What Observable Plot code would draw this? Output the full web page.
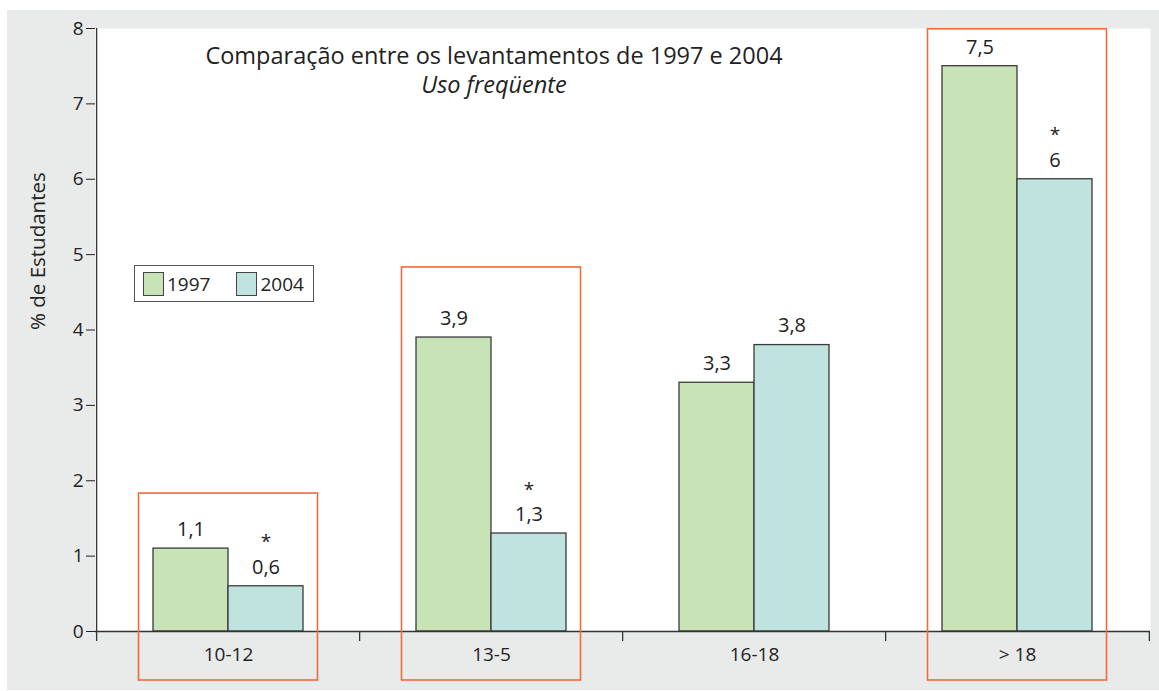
<!DOCTYPE html>
<html><head><meta charset="utf-8">
<script src="https://cdn.jsdelivr.net/npm/d3@7"></script>
<script src="https://cdn.jsdelivr.net/npm/@observablehq/plot@0.6"></script>
<style>
body{margin:0;background:#fff;font-family:"Open Sans",sans-serif;color:#222;}
#wrap{position:absolute;left:7px;top:10px;width:1152px;height:680px;background:#e9eaea;}
#chart{position:absolute;left:0;top:0;}
.tl{position:absolute;left:144px;width:700px;text-align:center;font-size:23.5px;line-height:27px;height:27px;color:#222;}
#t1{top:42px;}
#t2{top:71px;font-style:italic;}
#legend{position:absolute;left:134px;top:265px;width:178px;height:35px;border:1px solid #555;background:#fff;display:flex;align-items:center;font-size:19px;color:#222;}
.sw{display:inline-block;width:19px;height:22px;border:1px solid #444;margin-left:8px;margin-right:3px;}
</style></head>
<body>
<div id="wrap"><div id="chart"></div></div>
<div class="tl" id="t1">Comparação entre os levantamentos de 1997 e 2004</div>
<div class="tl" id="t2">Uso freqüente</div>
<div id="legend"><span class="sw" style="background:#c8e3b5"></span>1997<span class="sw" style="background:#c0e3e0;margin-left:26px"></span>2004</div>
<script>
const categories = ["10-12", "13-5", "16-18", "> 18"];
const values1997 = [1.1, 3.9, 3.3, 7.5];
const values2004 = [0.6, 1.3, 3.8, 6];
const significant = ["10-12", "13-5", "> 18"];
const boxTops = [1.83, 4.83, 7.99];
const yTicks = [0, 1, 2, 3, 4, 5, 6, 7, 8];

const green = "#c8e3b5", teal = "#c0e3e0", red = "#f26a3d";
const fmt = v => String(v).replace(".", ",");
const d97 = categories.map((c, i) => ({cat: c, v: values1997[i]}));
const d04 = categories.map((c, i) => ({cat: c, v: values2004[i]}));
const sig = d04.filter(d => significant.includes(d.cat));
const boxes = significant.map((c, i) => ({cat: c, top: boxTops[i]}));

const W = 1152, H = 680, mL = 88, mR = 9, mT = 18, mB = 59;
const step = (W - mL - mR) / categories.length;
const bw = 150;
const pin = 1 - bw / step;

const chart = Plot.plot({
  width: W, height: H,
  marginLeft: mL, marginRight: mR, marginTop: mT, marginBottom: mB,
  style: {fontFamily: "Open Sans, sans-serif", fontSize: "19px", color: "#222", background: "transparent"},
  x: {type: "band", domain: categories, paddingInner: pin, paddingOuter: pin / 2, tickSize: 0, tickPadding: 16, label: null},
  y: {domain: [0, 8], ticks: yTicks, tickSize: 9, tickPadding: 3, label: null},
  marks: [
    Plot.frame({fill: "white", stroke: "none"}),
    Plot.barY(d97, {x: "cat", y: "v", fill: green, stroke: "#3a3a3a", strokeWidth: 1.3, insetLeft: 0, insetRight: bw / 2}),
    Plot.barY(d04, {x: "cat", y: "v", fill: teal, stroke: "#3a3a3a", strokeWidth: 1.3, insetLeft: bw / 2, insetRight: 0}),
    Plot.ruleY([0], {stroke: "#333", strokeWidth: 1.3}),
    Plot.ruleX([categories[0]], {x: d => d, y1: -0.133, y2: 8, dx: -step / 2, stroke: "#333", strokeWidth: 1.3}),
    Plot.ruleX(categories.slice(1), {x: d => d, y1: -0.133, y2: 0, dx: -step / 2, stroke: "#333", strokeWidth: 1.3}),
    Plot.ruleX([categories[categories.length - 1]], {x: d => d, y1: -0.133, y2: 0, dx: step / 2, stroke: "#333", strokeWidth: 1.3}),
    Plot.barY(boxes, {x: "cat", y1: -0.65, y2: "top", fill: "none", stroke: red, strokeWidth: 1.6, insetLeft: -14.5, insetRight: -14.5}),
    Plot.text(d97, {x: "cat", y: "v", text: d => fmt(d.v), dx: -bw / 4, dy: -19, fontSize: 20, fill: "#222"}),
    Plot.text(d04, {x: "cat", y: "v", text: d => fmt(d.v), dx: bw / 4, dy: -19, fontSize: 20, fill: "#222"}),
    Plot.text(sig, {x: "cat", y: "v", text: () => "*", dx: bw / 4, dy: -44, fontSize: 19, fill: "#222"}),
    Plot.text(["% de Estudantes"], {frameAnchor: "left", dx: -57, rotate: -90, fontSize: 20.5, fill: "#222"})
  ]
});
document.getElementById("chart").appendChild(chart);
</script>
</body></html>
